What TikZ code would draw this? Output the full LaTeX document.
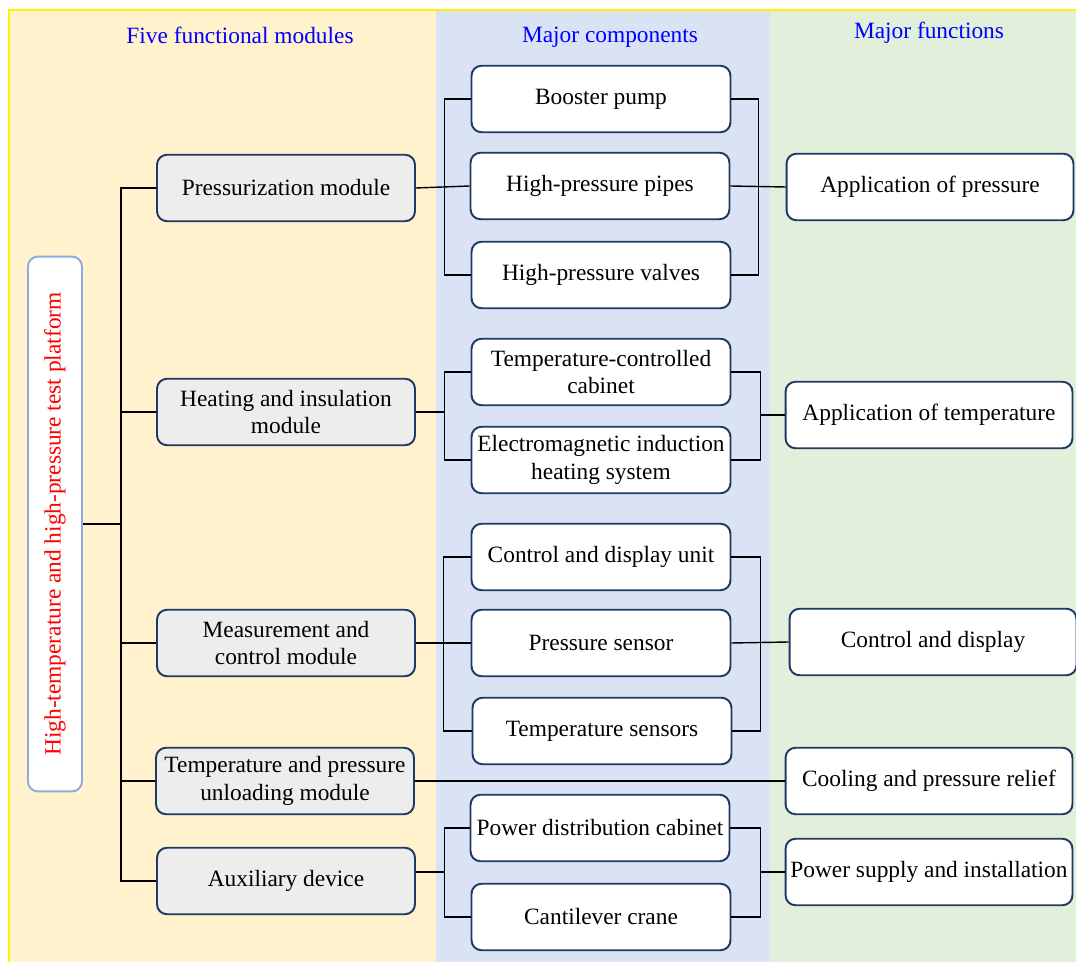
\documentclass[tikz,border=0pt]{standalone}
\usepackage{fontspec}
\setmainfont{Liberation Serif}
\usetikzlibrary{positioning}
\definecolor{navy}{HTML}{1F3864}
\definecolor{modbg}{HTML}{FFF2CC}
\definecolor{combg}{HTML}{DAE3F3}
\definecolor{funbg}{HTML}{E2EFDA}
\definecolor{modfill}{HTML}{EDEDED}
\definecolor{rootline}{HTML}{8FAADC}
\newcommand{\boxfont}{\fontsize{13.3}{15.5}\selectfont}

\begin{document}
\begin{tikzpicture}[x=0.02cm, y=-0.02cm,
    box/.style={draw=navy, line width=1.1pt, rounded corners=0.2cm, align=center,
        font=\boxfont, minimum height=1.33cm, inner sep=1pt},
    modbox/.style={box, fill=modfill, minimum width=5.16cm},
    combox/.style={box, fill=white, minimum width=5.18cm},
    funbox/.style={box, fill=white, minimum width=5.74cm},
    head/.style={text=blue, font=\boxfont},
    link/.style={line width=0.8pt}]
    \useasboundingbox (0,0) rectangle (1076,962);
    % background columns
    \fill[modbg] (10,10) rectangle (436,962);
    \fill[combg] (436,10) rectangle (770,962);
    \fill[funbg] (770,10) rectangle (1076,962);
    \draw[yellow, line width=1.2pt] (9,962) -- (9,10) -- (1076,10);

    \node[head] (h1) at (240,35) {Five functional modules};
    \node[head] (h2) at (610,37) {Major components};
    \node[head] (h3) at (929,33) {Major functions};

    % platform
    \node[draw=rootline, line width=1.1pt, fill=white, rounded corners=0.2cm,
        minimum width=1.08cm, minimum height=10.7cm] (root) at (55,524) {};
    \node[rotate=90, text=red, font=\boxfont] (roottext) at (root) {High-temperature and high-pressure test platform};

    % modules
    \node[modbox] (press) at (286,188) {Pressurization module};
    \node[modbox] (heat) at (286,412) {Heating and insulation\\module};
    \node[modbox] (meas) at (286,643) {Measurement and\\control module};
    \node[modbox] (unload) at (285,781) {Temperature and pressure\\unloading module};
    \node[modbox] (aux) at (286,881) {Auxiliary device};

    % components
    \node[combox] (pump) at (601,99) {Booster pump};
    \node[combox] (pipe) at (600,186) {High-pressure pipes};
    \node[combox] (valve) at (601,275) {High-pressure valves};
    \node[combox] (cab) at (601,372) {Temperature-controlled\\cabinet};
    \node[combox] (emih) at (601,460) {Electromagnetic induction\\heating system};
    \node[combox] (cdu) at (601,557) {Control and display unit};
    \node[combox] (psen) at (601,643) {Pressure sensor};
    \node[combox] (tsen) at (602,731) {Temperature sensors};
    \node[combox] (pdc) at (600,828) {Power distribution cabinet};
    \node[combox] (crane) at (601,917) {Cantilever crane};

    % functions
    \node[funbox] (fpress) at (930,187) {Application of pressure};
    \node[funbox] (ftemp) at (929,415) {Application of temperature};
    \node[funbox] (fctrl) at (933,642) {Control and display};
    \node[funbox] (fcool) at (929,781) {Cooling and pressure relief};
    \node[funbox] (fpow) at (929,872) {Power supply and installation};

    % trunk
    \coordinate (tr) at (122,524);
    \draw[link] (root.east |- tr) -- (tr);
    \draw[link] (press.west) -- ++(-35,0) |- (aux.west);
    \draw[link] (heat.west) -- (heat.west -| tr);
    \draw[link] (meas.west) -- (meas.west -| tr);
    \draw[link] (unload.west) -- (unload.west -| tr);

    % pressurization
    \draw[link] (pump.west) -- ++(-26,0) |- (valve.west);
    \draw[link] (press.east) -- (pipe.west);
    \draw[link] (pump.east) -- ++(27,0) |- (valve.east);
    \draw[link] (pipe.east) -- (fpress.west);

    % heating
    \coordinate (hl) at (445,412);
    \coordinate (hr) at (760,415);
    \draw[link] (cab.west) -- ++(-26,0) |- (emih.west);
    \draw[link] (heat.east) -- (hl);
    \draw[link] (cab.east) -- ++(29,0) |- (emih.east);
    \draw[link] (hr) -- (ftemp.west);

    % measurement
    \draw[link] (cdu.west) -- ++(-27,0) |- (tsen.west);
    \draw[link] (meas.east) -- (psen.west);
    \draw[link] (cdu.east) -- ++(29,0) |- (tsen.east);
    \draw[link] (psen.east) -- (fctrl.west);

    % unloading
    \draw[link] (unload.east) -- (fcool.west);

    % auxiliary
    \coordinate (al) at (445,872);
    \coordinate (ar) at (760,872);
    \draw[link] (pdc.west) -- ++(-25,0) |- (crane.west);
    \draw[link] (aux.east |- al) -- (al);
    \draw[link] (pdc.east) -- ++(30,0) |- (crane.east);
    \draw[link] (ar) -- (fpow.west);
\end{tikzpicture}
\end{document}
